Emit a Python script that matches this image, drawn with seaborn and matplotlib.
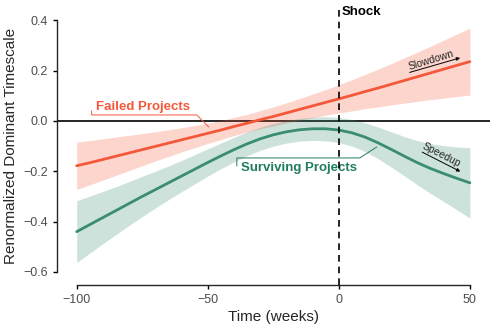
import numpy as np
import pandas as pd
import seaborn as sns
import matplotlib.pyplot as plt

sns.set_style("ticks")
plt.rcParams['font.family'] = ['Liberation Sans', 'DejaVu Sans']

# weeks relative to the shock, every 5 weeks
weeks = list(range(-100, 55, 5))

failed_fit = [-0.178, -0.166, -0.153, -0.140, -0.127, -0.114, -0.101, -0.088,
              -0.075, -0.062, -0.049, -0.036, -0.022, -0.009, 0.005, 0.018,
              0.032, 0.046, 0.060, 0.074, 0.088, 0.102, 0.117, 0.131,
              0.146, 0.161, 0.176, 0.191, 0.206, 0.221, 0.236]
failed_lo = [-0.272, -0.254, -0.235, -0.216, -0.197, -0.178, -0.159, -0.141,
             -0.123, -0.106, -0.089, -0.074, -0.058, -0.044, -0.031, -0.020,
             -0.008, 0.003, 0.013, 0.023, 0.032, 0.040, 0.049, 0.056,
             0.064, 0.071, 0.078, 0.085, 0.091, 0.097, 0.103]
failed_hi = [-0.084, -0.078, -0.071, -0.064, -0.057, -0.050, -0.043, -0.035,
             -0.027, -0.018, -0.009, 0.002, 0.014, 0.026, 0.041, 0.056,
             0.072, 0.089, 0.107, 0.125, 0.144, 0.164, 0.185, 0.206,
             0.228, 0.251, 0.274, 0.297, 0.321, 0.345, 0.369]

surv_fit = [-0.440, -0.412, -0.384, -0.356, -0.328, -0.300, -0.273, -0.246,
            -0.219, -0.192, -0.165, -0.139, -0.114, -0.091, -0.071, -0.055,
            -0.043, -0.035, -0.031, -0.031, -0.036, -0.047, -0.064, -0.087,
            -0.113, -0.140, -0.166, -0.189, -0.209, -0.228, -0.246]
surv_lo = [-0.563, -0.525, -0.488, -0.451, -0.415, -0.380, -0.346, -0.313,
           -0.281, -0.250, -0.219, -0.190, -0.163, -0.138, -0.117, -0.100,
           -0.088, -0.080, -0.077, -0.079, -0.086, -0.100, -0.121, -0.150,
           -0.183, -0.218, -0.254, -0.288, -0.320, -0.353, -0.386]
surv_hi = [-0.317, -0.299, -0.280, -0.261, -0.241, -0.220, -0.200, -0.179,
           -0.157, -0.134, -0.111, -0.088, -0.065, -0.044, -0.025, -0.010,
           0.002, 0.010, 0.015, 0.017, 0.014, 0.006, -0.007, -0.024,
           -0.043, -0.062, -0.078, -0.090, -0.098, -0.103, -0.106]

RED = '#F4583B'
GREEN = '#3A8C72'
GREEN_TXT = '#1F7D5E'

df = pd.DataFrame({
    'week': weeks * 2,
    'value': failed_fit + surv_fit,
    'group': ['Failed'] * len(weeks) + ['Surviving'] * len(weeks),
})

fig = plt.figure(figsize=(4.98, 3.31), dpi=100)
ax = fig.add_axes([0.1145, 0.139, 0.8685, 0.839])

ax.axhline(0, color='black', lw=1.2, zorder=1)
ax.fill_between(weeks, failed_lo, failed_hi, color=RED, alpha=0.25, lw=0, zorder=2)
ax.fill_between(weeks, surv_lo, surv_hi, color=GREEN, alpha=0.25, lw=0, zorder=2)
sns.lineplot(data=df, x='week', y='value', hue='group',
             palette={'Failed': RED, 'Surviving': GREEN},
             lw=2.0, legend=False, ax=ax, zorder=3)
ax.axvline(0, color='black', lw=1.2, ls=(0, (4, 3)), zorder=4)

# labels with bracket leaders
ax.plot([-94.3, -94.3, -54.2, -49.6], [0.040, 0.024, 0.024, -0.024],
        color=RED, lw=0.7, zorder=5)
ax.text(-92.7, 0.056, 'Failed Projects', color=RED, fontsize=9.5,
        fontweight='bold', va='center', ha='left')
ax.plot([-38.9, -38.9, 8.0, 14.5], [-0.179, -0.147, -0.147, -0.103],
        color=GREEN_TXT, lw=0.7, zorder=5)
ax.text(-37.4, -0.187, 'Surviving Projects', color=GREEN_TXT, fontsize=9.5,
        fontweight='bold', va='center', ha='left')
ax.text(1.1, 0.432, 'Shock', color='black', fontsize=9.5,
        fontweight='bold', va='center', ha='left')

# slowdown / speedup arrows
ax.annotate('', xy=(47.3, 0.254), xytext=(26.0, 0.190),
            arrowprops=dict(arrowstyle='-|>', color='black', lw=0.7,
                            mutation_scale=5))
ax.text(35.4, 0.241, 'Slowdown', fontsize=7.5, rotation=17,
        ha='center', va='center')
ax.annotate('', xy=(47.3, -0.206), xytext=(30.9, -0.119),
            arrowprops=dict(arrowstyle='-|>', color='black', lw=0.7,
                            mutation_scale=5))
ax.text(39.3, -0.137, 'Speedup', fontsize=7.5, rotation=-27,
        ha='center', va='center')

ax.set_xlim(-107.5, 57.5)
ax.set_ylim(-0.652, 0.452)
ax.set_xticks([-100, -50, 0, 50])
ax.set_yticks([-0.6, -0.4, -0.2, 0.0, 0.2, 0.4])
ax.set_yticklabels(['\u22120.6', '\u22120.4', '\u22120.2', '0.0', '0.2', '0.4'])
ax.set_xticklabels(['\u2212100', '\u221250', '0', '50'])
ax.tick_params(labelsize=9, colors='#4D4D4D', length=3, width=1)
ax.tick_params(color='black')
for s in ['top', 'right']:
    ax.spines[s].set_visible(False)
ax.spines['left'].set_bounds(-0.6, 0.4)
ax.spines['bottom'].set_bounds(-100, 50)
ax.spines['left'].set_linewidth(1)
ax.spines['bottom'].set_linewidth(1)
ax.set_xlabel('Time (weeks)', fontsize=11, labelpad=3)
ax.set_ylabel('Renormalized Dominant Timescale', fontsize=11, labelpad=4)

fig.savefig('out.png', dpi=100)
